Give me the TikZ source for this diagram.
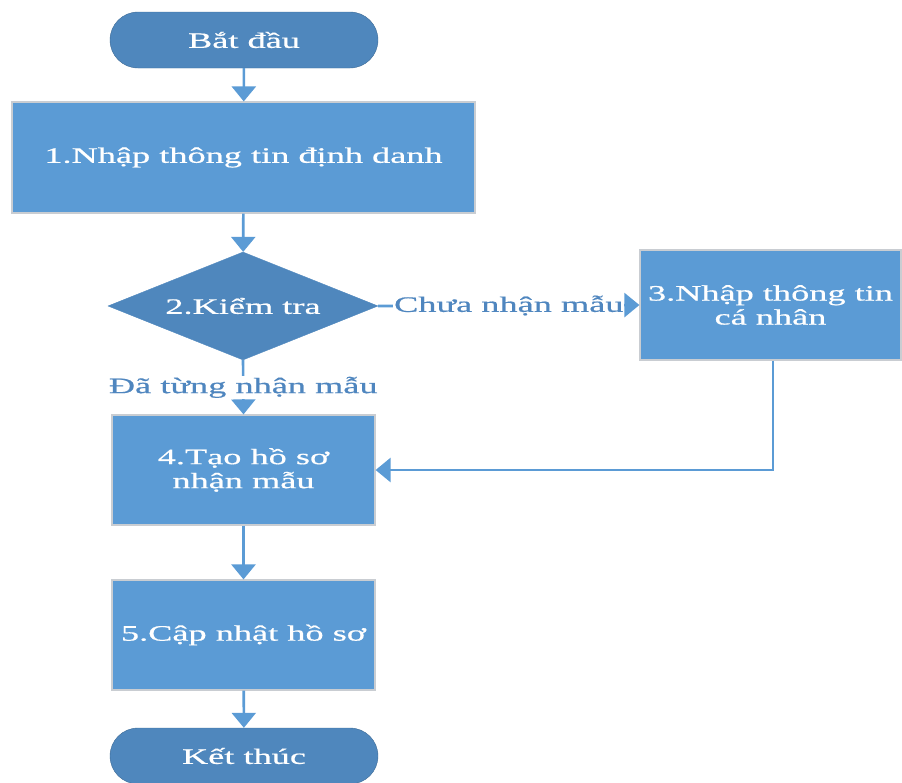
\documentclass[tikz,border=0pt]{standalone}
\usepackage{fontspec}
\setmainfont[FakeStretch=1.65,FakeBold=0.6]{Liberation Serif}
\usetikzlibrary{shapes.geometric,shapes.misc,arrows.meta}
\definecolor{boxblue}{HTML}{5B9BD5}
\definecolor{darkblue}{HTML}{4F87BD}
\definecolor{edgeblue}{HTML}{5B9BD5}
\definecolor{lblblue}{HTML}{4F86BF}
\definecolor{rimgrey}{HTML}{C9CDD2}
\begin{document}
\begin{tikzpicture}[x=1pt,y=-1pt,
  every node/.style={font=\fontsize{22}{27}\selectfont},
  term/.style={draw=darkblue!80!black, fill=darkblue, text=white, rounded rectangle, minimum width=268pt, minimum height=56pt, inner sep=0pt},
  procbox/.style={draw=rimgrey, line width=1.2pt, fill=boxblue, text=white, align=center, inner sep=0pt},
  decis/.style={draw=darkblue, fill=darkblue, text=white, diamond, aspect=2.5, minimum width=270pt, minimum height=108pt, inner sep=0pt},
  arr/.style={draw=edgeblue, line width=2.6pt, -{Triangle[width=24pt,length=15pt]}},
  lbl/.style={text=lblblue, fill=white, inner sep=1pt}
]
\useasboundingbox (0,0) rectangle (902,782);
\node[term] (start) at (244,40) {Bắt đầu};
\node[procbox, minimum width=463pt, minimum height=111pt] (b1) at (243.5,157.5) {1.Nhập thông tin định danh};
\node[decis] (d2) at (243,306) {2.Kiểm tra};
\node[procbox, minimum width=261pt, minimum height=110pt] (b3) at (770.5,305) {3.Nhập thông tin\\[-3pt]cá nhân};
\node[procbox, minimum width=263pt, minimum height=110pt] (b4) at (243.5,470) {4.Tạo hồ sơ\\[-3pt]nhận mẫu};
\node[procbox, minimum width=263pt, minimum height=110pt] (b5) at (243.5,635) {5.Cập nhật hồ sơ};
\node[term] (end) at (244,756) {Kết thúc};
\coordinate (c3) at (773,470);
\draw[arr] (start) -- (b1);
\draw[arr] (b1) -- (d2);
\draw[arr] (d2.east) -- node[lbl] {Chưa nhận mẫu} (b3.west);
\draw[arr] (d2.south) -- node[lbl] {Đã từng nhận mẫu} (b4.north);
\draw[arr] (b3.south -| c3) -- (c3) -- (b4.east);
\draw[arr] (b4) -- (b5);
\draw[arr] (b5) -- (end);
\end{tikzpicture}
\end{document}
